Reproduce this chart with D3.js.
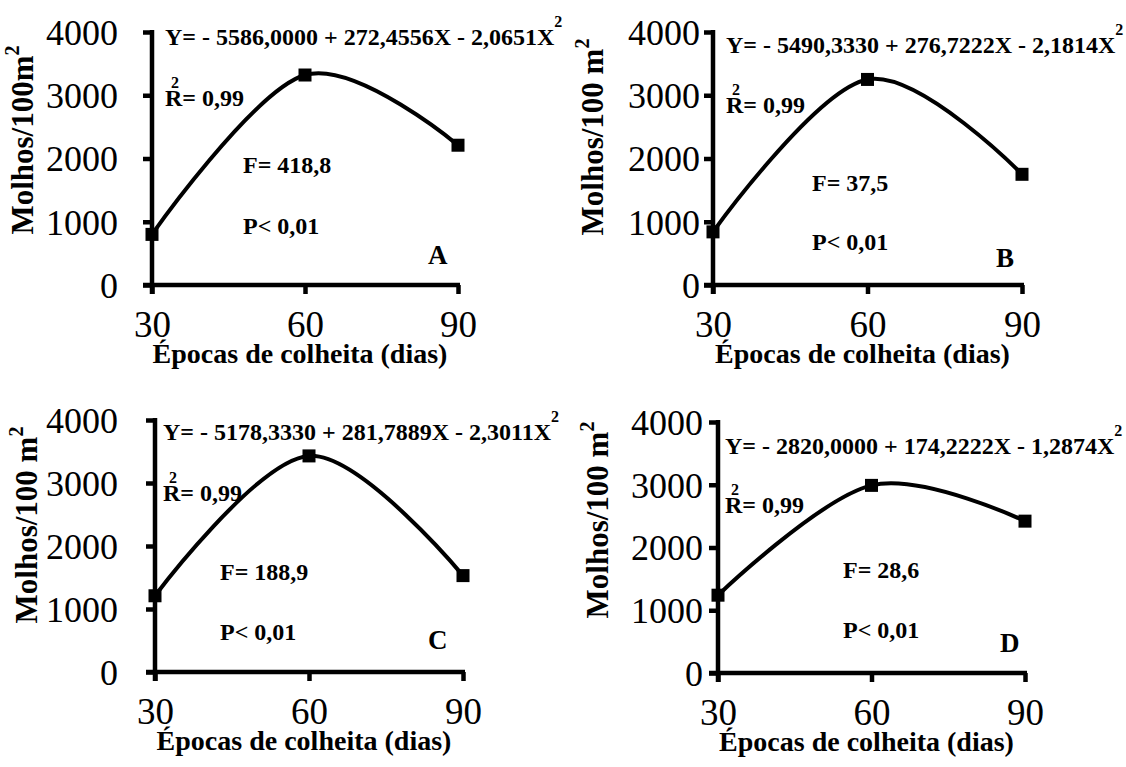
<!DOCTYPE html>
<html>
<head>
<meta charset="utf-8">
<script src="https://cdn.jsdelivr.net/npm/d3@7"></script>
<style>
  body { margin: 0; background: #fff; }
  svg { display: block; }
  svg text { font-family: "Liberation Serif", "DejaVu Serif", "Times New Roman", serif !important; fill: #000; }
</style>
</head>
<body>
<svg id="chart" width="1126" height="767" font-family="Liberation Serif"></svg>
<script>
'use strict';

// data
const days = [30, 60, 90];
const yTicks = [0, 1000, 2000, 3000, 4000];
const molhosA = [800, 3320, 2210];
const molhosB = [840, 3250, 1750];
const molhosC = [1210, 3430, 1530];
const molhosD = [1240, 2990, 2420];
const equations = [
    'Y= - 5586,0000 + 272,4556X - 2,0651X',
    'Y= - 5490,3330 + 276,7222X - 2,1814X',
    'Y= - 5178,3330 + 281,7889X - 2,3011X',
    'Y= - 2820,0000 + 174,2222X - 1,2874X'
];
const fValues = ['F= 418,8', 'F= 37,5', 'F= 188,9', 'F= 28,6'];
const pValues = ['P< 0,01', 'P< 0,01', 'P< 0,01', 'P< 0,01'];
const r2Values = ['R= 0,99', 'R= 0,99', 'R= 0,99', 'R= 0,99'];
const letters = ['A', 'B', 'C', 'D'];
const yTitles = ['Molhos/100m', 'Molhos/100 m', 'Molhos/100 m', 'Molhos/100 m'];
const xTitle = 'Épocas de colheita (dias)';

// layout of each panel
const panels = [
    {vals: molhosA, x0: 152, x1: 458, top: 32, bot: 285, pad: 25, eq: [165, 45], r2: [165, 106], f: [243, 173], p: [243, 234], let: [428, 264], yt: [33, 140]},
    {vals: molhosB, x0: 713, x1: 1022, top: 32, bot: 285, pad: 4, eq: [726, 53], r2: [726, 113], f: [812, 191], p: [812, 250], let: [996, 267], yt: [603, 137]},
    {vals: molhosC, x0: 155, x1: 463, top: 420, bot: 672, pad: 28, eq: [163, 440], r2: [163, 501], f: [220, 580], p: [220, 640], let: [428, 649], yt: [37, 525]},
    {vals: molhosD, x0: 718, x1: 1025, top: 422, bot: 673, pad: 6, eq: [725, 454], r2: [725, 513], f: [843, 578], p: [843, 638], let: [1000, 652], yt: [608, 520]}
];

const svg = d3.select('#chart');
const tick = 9;
const serif = 'Liberation Serif';

function label(g, x, y, str, size, bold) {
    return g.append('text')
        .attr('x', x).attr('y', y)
        .attr('font-family', serif)
        .style('font-size', size + 'px')
        .style('font-weight', bold ? 'bold' : 'normal')
        .text(str);
}

panels.forEach(function(p, i) {
    const g = svg.append('g');
    const x = d3.scaleLinear().domain([30, 90]).range([p.x0, p.x1]);
    const y = d3.scaleLinear().domain([0, 4000]).range([p.bot, p.top]);

    // y axis
    const ya = g.append('g')
        .attr('transform', 'translate(' + p.x0 + ',0)')
        .call(d3.axisLeft(y).tickValues(yTicks).tickSize(tick).tickPadding(p.pad).tickFormat(d3.format('d')));
    ya.attr('font-family', serif);
    ya.select('.domain').remove();
    ya.selectAll('line').attr('stroke', '#000').attr('stroke-width', 4.5);
    ya.selectAll('text').style('font-size', '36px').attr('dy', '0.34em');

    // x axis
    const xa = g.append('g')
        .attr('transform', 'translate(0,' + p.bot + ')')
        .call(d3.axisBottom(x).tickValues(days).tickSize(tick).tickPadding(17).tickFormat(d3.format('d')));
    xa.attr('font-family', serif);
    xa.select('.domain').remove();
    xa.selectAll('line').attr('stroke', '#000').attr('stroke-width', 4.5);
    xa.selectAll('text').style('font-size', '37px');

    g.append('line')
        .attr('x1', p.x0).attr('x2', p.x0)
        .attr('y1', y(4000) - 2).attr('y2', y(0) + tick)
        .attr('stroke', '#000').attr('stroke-width', 4.5);
    g.append('line')
        .attr('x1', p.x0 - tick).attr('x2', p.x1 + 2)
        .attr('y1', y(0)).attr('y2', y(0))
        .attr('stroke', '#000').attr('stroke-width', 4.5);

    // smooth curve + markers
    const line = d3.line()
        .x(function(d, k) { return x(days[k]); })
        .y(function(d) { return y(d); })
        .curve(d3.curveCardinal.tension(0));
    g.append('path')
        .attr('d', line(p.vals))
        .attr('fill', 'none')
        .attr('stroke', '#000')
        .attr('stroke-width', 4);
    g.selectAll('rect.mk')
        .data(p.vals)
        .enter()
        .append('rect')
        .attr('class', 'mk')
        .attr('x', function(d, k) { return x(days[k]) - 6.5; })
        .attr('y', function(d) { return y(d) - 6.5; })
        .attr('width', 13)
        .attr('height', 13)
        .attr('fill', '#000');

    // texts
    const eq = label(g, p.eq[0], p.eq[1], equations[i], 24, true);
    eq.append('tspan').attr('dy', -18).style('font-size', '16px').text('2');

    label(g, p.r2[0], p.r2[1], r2Values[i], 24, true);
    label(g, p.r2[0] + 6, p.r2[1] - 18, '2', 16, true);
    label(g, p.f[0], p.f[1], fValues[i], 24, true);
    label(g, p.p[0], p.p[1], pValues[i], 24, true);
    label(g, p.let[0], p.let[1], letters[i], 27, true);

    // axis titles
    label(g, (p.x0 + p.x1) / 2 - 5, p.bot + 78, xTitle, 28, true)
        .attr('text-anchor', 'middle');
    const yt = label(g, 0, 0, yTitles[i], 31, true)
        .attr('transform', 'translate(' + p.yt[0] + ',' + p.yt[1] + ') rotate(-90)')
        .attr('text-anchor', 'middle');
    yt.append('tspan').attr('dy', -14).style('font-size', '20px').text('2');
});
</script>
</body>
</html>
